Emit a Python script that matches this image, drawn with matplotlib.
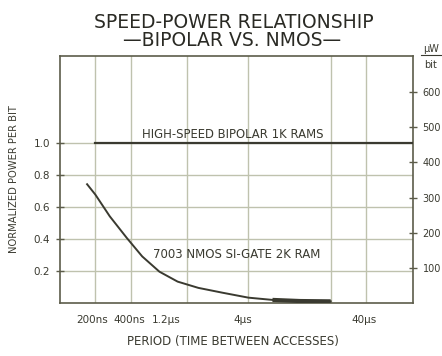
import matplotlib
matplotlib.use("Agg")
import matplotlib.pyplot as plt
import matplotlib.transforms as mtransforms
import numpy as np

plt.rcParams['font.family'] = ['DejaVu Sans']

# Access period (microseconds) and normalized power per bit
nmos_period_us = [0.17, 0.2, 0.265, 0.37, 0.5, 0.7, 1.0, 1.5, 2.4, 4.0, 6.4, 11.0, 20.0]
nmos_power = [0.74, 0.675, 0.54, 0.405, 0.29, 0.195, 0.133, 0.094, 0.064, 0.033, 0.019, 0.012, 0.01]
bipolar_period_us = [0.2, 100.0]
bipolar_power = [1.0, 1.0]

x_ticks_us = [0.2, 0.4, 1.2, 4.0, 40.0]
x_tick_labels = ["200ns", "400ns", "1.2\u03bcs", "4\u03bcs", "40\u03bcs"]
x_grid_us = [0.2, 0.4, 1.2, 4.0, 20.0, 40.0]
y_ticks = [0.2, 0.4, 0.6, 0.8, 1.0]
y_tick_labels = ["0.2", "0.4", "0.6", "0.8", "1.0"]
right_ticks = [100, 200, 300, 400, 500, 600]

ink = '#3a3a30'
grid_c = '#bfc2ae'
spine_c = '#5c5c4a'

fig = plt.figure(figsize=(4.42, 3.56), dpi=100)
ax = fig.add_axes([0.1357, 0.149, 0.7985, 0.694])
ax.set_xscale('log')
ax.set_xlim(0.1, 100)
ax.set_ylim(0, 1.54)

for xg in x_grid_us:
    ax.axvline(xg, color=grid_c, lw=1.0, zorder=1)
for yg in y_ticks:
    ax.axhline(yg, color=grid_c, lw=1.0, zorder=1)

ax.plot(bipolar_period_us, bipolar_power, color=ink, lw=1.6, zorder=3)
ax.plot(nmos_period_us, nmos_power, color=ink, lw=1.4, zorder=3)
ax.plot(nmos_period_us[-3:], nmos_power[-3:], color=ink, lw=3.0, zorder=3,
        solid_capstyle='butt')

ax.set_xticks(x_ticks_us)
ax.set_xticklabels(x_tick_labels)
ax.xaxis.set_minor_locator(matplotlib.ticker.NullLocator())
ax.set_yticks(y_ticks)
ax.set_yticklabels(y_tick_labels)
ax.tick_params(axis='x', length=0, pad=9, labelsize=7.5, colors=ink)
ax.tick_params(axis='y', direction='inout', length=6, width=1, color=spine_c,
               pad=4, labelsize=7.5, labelcolor=ink)

# the lettering under the axis sits a little left of each grid line
x_label_shift_px = [-3, -1, -21, -6, -2]
for lab, dx in zip(ax.get_xticklabels(), x_label_shift_px):
    lab.set_transform(lab.get_transform() +
                      mtransforms.ScaledTranslation(dx / 100, 0, fig.dpi_scale_trans))

for s in ax.spines.values():
    s.set_color(spine_c)
    s.set_linewidth(1.2)

ax.set_xlabel("PERIOD (TIME BETWEEN ACCESSES)", fontsize=8.5, color=ink)
ax.xaxis.set_label_coords(0.49, -0.13)
ax.set_ylabel("NORMALIZED POWER PER BIT", fontsize=7.2, color=ink)
ax.yaxis.set_label_coords(-0.115, 0.5)

ax2 = ax.twinx()
ax2.set_ylim(0, 703)
ax2.set_yticks(right_ticks)
ax2.set_yticklabels([str(v) for v in right_ticks])
ax2.tick_params(axis='y', direction='inout', length=6, width=1, color=spine_c,
                pad=4, labelsize=7, labelcolor=ink)
for s in ax2.spines.values():
    s.set_visible(False)

ax.text(0.49, 1.05, "HIGH-SPEED BIPOLAR 1K RAMS", transform=ax.get_yaxis_transform(),
        ha='center', va='center', fontsize=8.4, color=ink)
ax.text(0.50, 0.30, "7003 NMOS SI-GATE 2K RAM", transform=ax.get_yaxis_transform(),
        ha='center', va='center', fontsize=8.5, color=ink)

fig.text(0.530, 0.938, "SPEED-POWER RELATIONSHIP", ha='center', va='center',
         fontsize=13.5, color='#2a2a24')
fig.text(0.525, 0.887, "\u2014BIPOLAR VS. NMOS\u2014", ha='center', va='center',
         fontsize=13.5, color='#2a2a24')

# units label on the right axis
fig.text(0.975, 0.862, "\u03bcW", ha='center', va='center', fontsize=7, color=ink)
fig.add_artist(plt.Line2D([0.952, 0.998], [0.845, 0.845], color=ink, lw=0.8))
fig.text(0.975, 0.818, "bit", ha='center', va='center', fontsize=7, color=ink)

fig.savefig("out.png", dpi=100, facecolor='white')
